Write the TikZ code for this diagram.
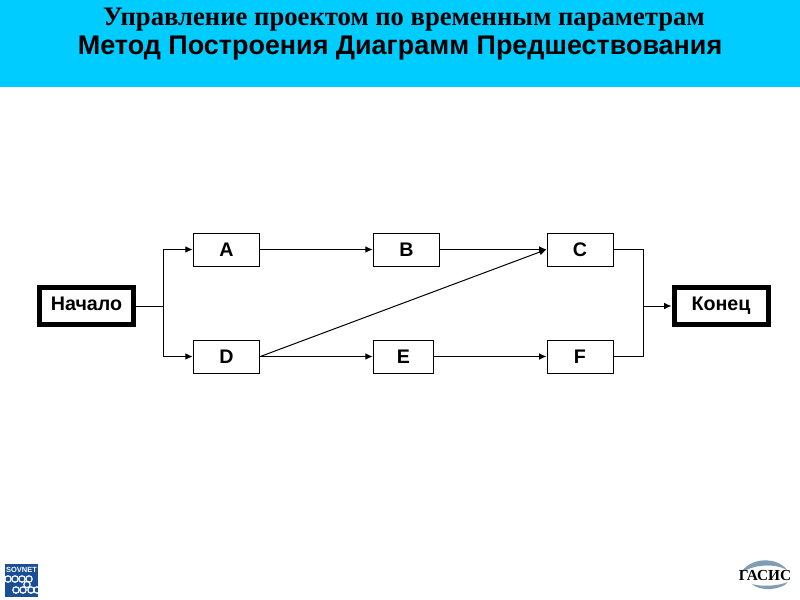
\documentclass[tikz,border=0pt]{standalone}
\usepackage{fontspec}
\setmainfont{Liberation Sans}
\newfontfamily\serifbold[Ligatures=TeX]{Liberation Serif}
\usetikzlibrary{arrows.meta,calc}
\definecolor{bannerblue}{HTML}{00CCFF}
\definecolor{logoblue}{HTML}{1A4E96}
\definecolor{logosteel}{HTML}{7F9DB5}
\tikzset{
  x=0.75pt,y=-0.75pt,
  task/.style={draw=black,line width=0.75pt,fill=white,inner sep=0pt,minimum height=24.75pt,
    text height=10pt,text depth=0.2pt,
    font=\fontsize{14.75}{16}\selectfont\bfseries},
  terminal/.style={draw=black,line width=3.75pt,fill=white,inner sep=0pt,minimum height=27.75pt,minimum width=70.5pt,
    text height=8pt,text depth=2pt,
    font=\fontsize{14.75}{16}\selectfont\bfseries},
  link/.style={draw=black,line width=0.75pt},
  flow/.style={link,-{Latex[length=5.5pt,width=5pt]}},
  ring/.style={draw=white,line width=0.9pt}
}
\begin{document}
\begin{tikzpicture}
\useasboundingbox (0,0) rectangle (800,600);
\fill[white] (0,0) rectangle (800,600);
\fill[bannerblue] (0,0) rectangle (800,87);
\node[anchor=center,inner sep=0pt,font=\serifbold\fontsize{20}{22}\selectfont\bfseries] (t1) at (404,19.5) {Управление проектом по временным параметрам};
\node[anchor=center,inner sep=0pt,font=\fontsize{20.2}{22}\selectfont\bfseries] (t2) at (400,48.5) {Метод Построения Диаграмм Предшествования};

\node[terminal] (start) at (86.5,306) {Начало};
\node[terminal] (finish) at (721,306) {Конец};
\node[task,minimum width=50pt] (A) at (226.5,249.5) {A};
\node[task,minimum width=50pt] (B) at (406.5,249.5) {B};
\node[task,minimum width=49.5pt] (C) at (580,249.5) {C};
\node[task,minimum width=50pt] (D) at (226.5,356.5) {D};
\node[task,minimum width=45.5pt] (E) at (403.5,356.5) {E};
\node[task,minimum width=49.5pt] (F) at (580,356.5) {F};

\coordinate (split) at (163.5,306);
\coordinate (merge) at (643.5,306);
\draw[link] (start.east) -- (split);
\draw[flow] (split) |- (A.west);
\draw[flow] (split) |- (D.west);
\draw[flow] (A.east) -- (B.west);
\draw[flow] (B.east) -- (C.west);
\draw[flow] (D.east) -- (E.west);
\draw[flow] (E.east) -- (F.west);
\draw[flow] (D.east) -- (C.west);
\draw[link] (C.east) -| (merge);
\draw[link] (F.east) -| (merge);
\draw[flow] (merge) -- (finish.west);

% SOVNET logo
\fill[logoblue] (5,564) rectangle (38,597);
\node[inner sep=0pt,text=white,font=\fontsize{5.6}{6}\selectfont\bfseries] (sv) at (21.5,569.5) {SOVNET};
\foreach \cx/\cy in {8/579,15/579,22/579,29/579,16/590,23/590,31/590,37/590,27/584.5}{
  \draw[ring] (\cx,\cy) circle (3.2);
}
% GASIS logo
\fill[logosteel] (740,574) .. controls (750,556) and (778,557) .. (787,570)
  .. controls (775,563) and (752,564) .. (740,574) -- cycle;
\fill[logosteel] (752,584) .. controls (760,592) and (782,590) .. (788,582)
  .. controls (778,586) and (762,587) .. (752,584) -- cycle;
\node[inner sep=0pt,font=\serifbold\fontsize{11.5}{14}\selectfont\bfseries] (gs) at (765,575) {ГАСИС};
\end{tikzpicture}
\end{document}
